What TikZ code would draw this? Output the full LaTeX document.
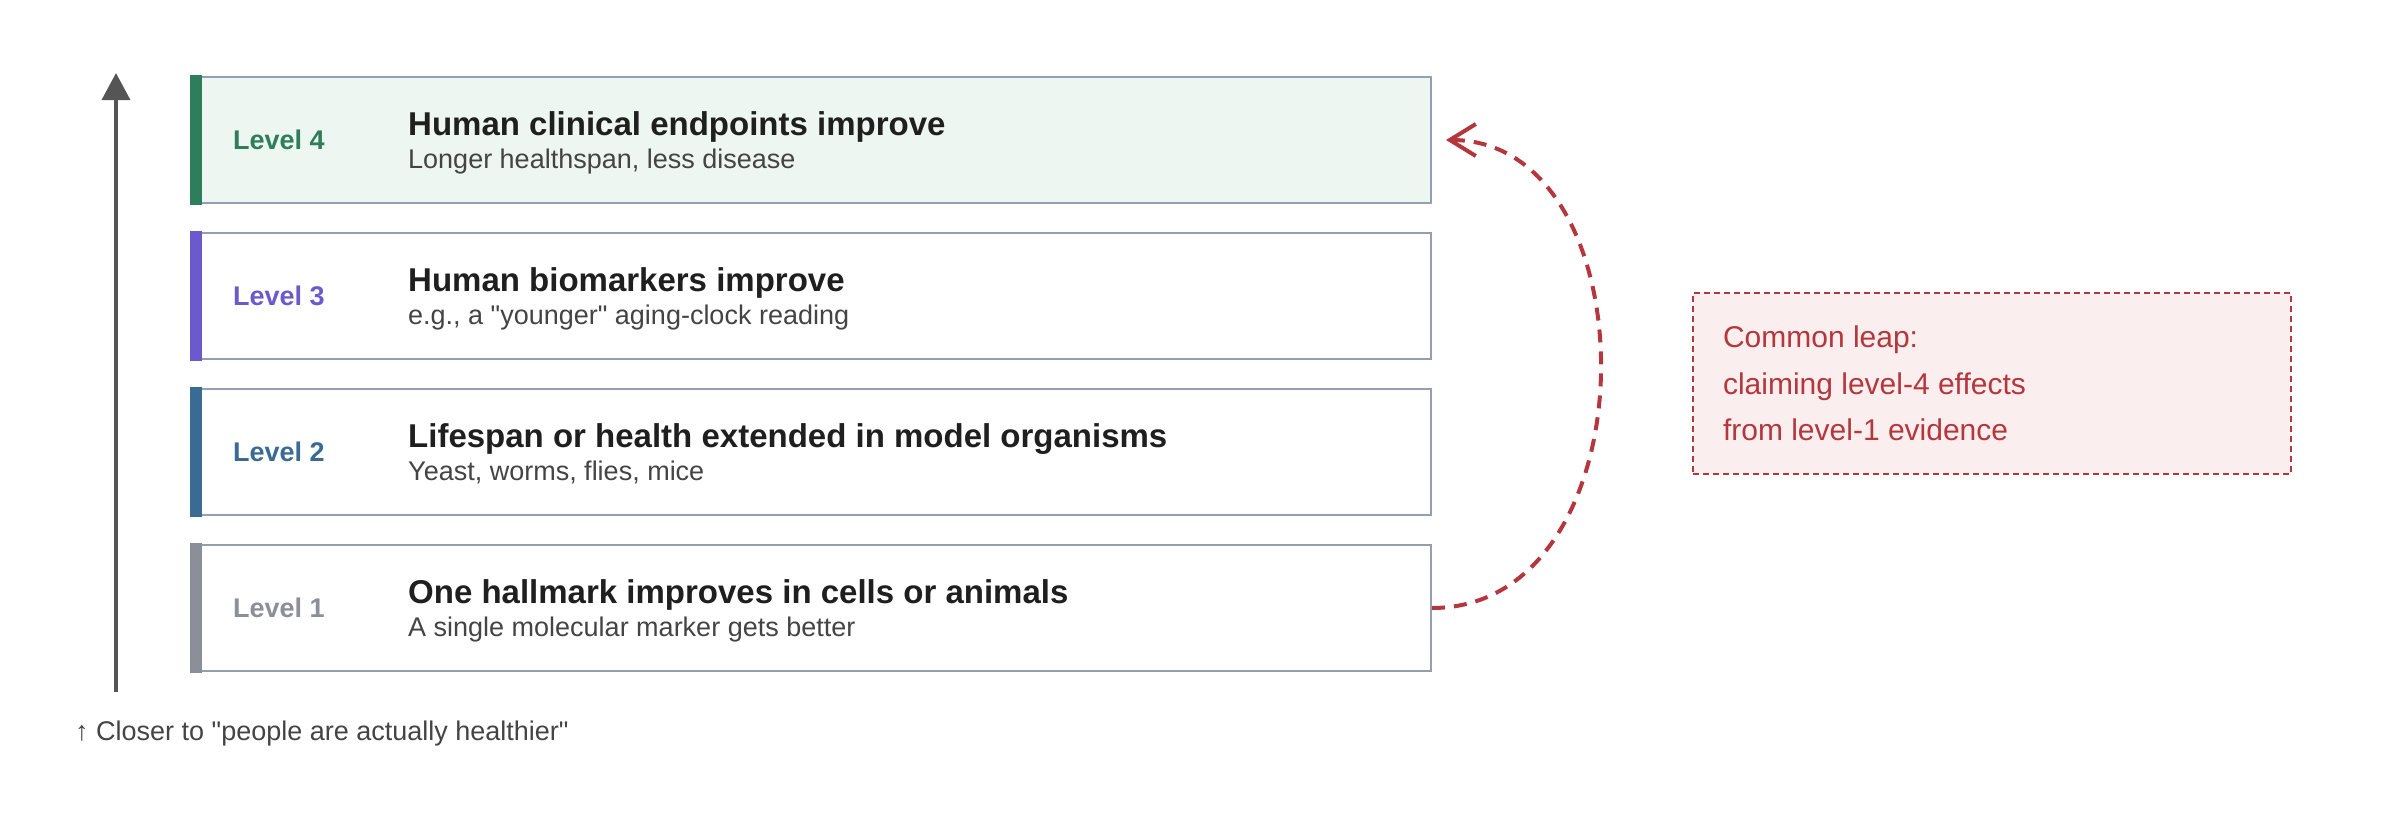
\documentclass[tikz,border=0pt]{standalone}
\usepackage{fontspec}
\setmainfont{Liberation Sans}
\usetikzlibrary{arrows.meta}
\definecolor{boxborder}{HTML}{94A0B0}
\definecolor{lvfour}{HTML}{2E7D5B}
\definecolor{lvthree}{HTML}{6A5ACD}
\definecolor{lvtwo}{HTML}{3A6B94}
\definecolor{lvone}{HTML}{8A8F99}
\definecolor{greenfill}{HTML}{EDF6F0}
\definecolor{titlecol}{HTML}{1F1F1F}
\definecolor{subcol}{HTML}{444444}
\definecolor{axiscol}{HTML}{555555}
\definecolor{leapred}{HTML}{B5373D}
\definecolor{leapfill}{HTML}{FBEEEE}
\begin{document}
\begin{tikzpicture}[x=1pt,y=-1pt,
  levelbox/.style={draw=boxborder, line width=2pt, minimum width=1240pt, minimum height=126pt, inner sep=0pt},
  levelbar/.style={fill=#1, draw=none},
  levellabel/.style={anchor=base west, inner sep=0pt, font=\fontsize{27}{32}\selectfont\bfseries, text=#1},
  titletext/.style={anchor=base west, inner sep=0pt, font=\fontsize{33}{40}\selectfont\bfseries, text=titlecol},
  subtext/.style={anchor=base west, inner sep=0pt, font=\fontsize{27}{32}\selectfont, text=subcol},
  axisline/.style={draw=axiscol, line width=3.5pt, -{Triangle[length=27pt,width=28pt]}},
  leap/.style={draw=leapred, line width=4pt, dash pattern=on 13pt off 9pt, -{Straight Barb[length=26pt,width=32pt,line width=4pt]}},
  calloutbox/.style={draw=leapred, fill=leapfill, line width=2pt, dash pattern=on 6pt off 4pt,
     minimum width=598pt, minimum height=181pt, text width=538pt, inner xsep=30pt, inner ysep=0pt,
     align=flush left, text=leapred, font=\fontsize{30}{46.5}\selectfont},
  footer/.style={anchor=base west, inner sep=0pt, font=\fontsize{27}{32}\selectfont, text=subcol}
]
\useasboundingbox (0,0) rectangle (2400,836);

% vertical axis
\coordinate (axbot) at (116,692);
\coordinate (axtop) at (116,73);
\draw[axisline] (axbot) -- (axtop);

% level boxes
\node[levelbox, fill=greenfill] (b4) at (811,140) {};
\node[levelbox, fill=white] (b3) at (811,296) {};
\node[levelbox, fill=white] (b2) at (811,452) {};
\node[levelbox, fill=white] (b1) at (811,608) {};

\fill[levelbar=lvfour] ([yshift=1pt]b4.north west) rectangle ([xshift=12pt,yshift=-1pt]b4.south west);
\fill[levelbar=lvthree] ([yshift=1pt]b3.north west) rectangle ([xshift=12pt,yshift=-1pt]b3.south west);
\fill[levelbar=lvtwo] ([yshift=1pt]b2.north west) rectangle ([xshift=12pt,yshift=-1pt]b2.south west);
\fill[levelbar=lvone] ([yshift=1pt]b1.north west) rectangle ([xshift=12pt,yshift=-1pt]b1.south west);

% labels
\node[levellabel=lvfour] (l4) at (233,149) {Level 4};
\node[titletext] (t4) at (408,135) {Human clinical endpoints improve};
\node[subtext] (s4) at (408,168) {Longer healthspan, less disease};

\node[levellabel=lvthree] (l3) at (233,305) {Level 3};
\node[titletext] (t3) at (408,291) {Human biomarkers improve};
\node[subtext] (s3) at (408,324) {e.g., a \textquotedbl younger\textquotedbl{} aging-clock reading};

\node[levellabel=lvtwo] (l2) at (233,461) {Level 2};
\node[titletext] (t2) at (408,447) {Lifespan or health extended in model organisms};
\node[subtext] (s2) at (408,480) {Yeast, worms, flies, mice};

\node[levellabel=lvone] (l1) at (233,617) {Level 1};
\node[titletext] (t1) at (408,603) {One hallmark improves in cells or animals};
\node[subtext] (s1) at (408,636) {A single molecular marker gets better};

% leap arrow
\coordinate (leapend) at (1446,140);
\draw[leap] (b1.east) .. controls (1654,608) and (1654,140) .. (leapend);

% callout
\node[calloutbox] (callout) at (1992,383.5) {Common leap:\\claiming level-4 effects\\from level-1 evidence};

% footer
\node[footer] (foot) at (75,740) {↑ Closer to \textquotedbl people are actually healthier\textquotedbl};
\end{tikzpicture}
\end{document}
